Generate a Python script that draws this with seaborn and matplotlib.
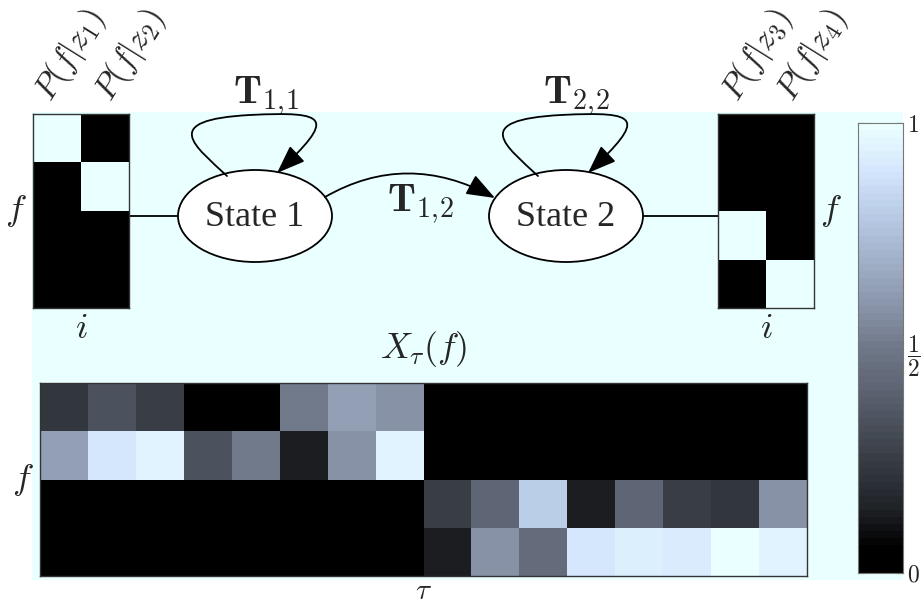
import numpy as np
import matplotlib
matplotlib.use("Agg")
import matplotlib.pyplot as plt
import seaborn as sns
from matplotlib.colors import LinearSegmentedColormap
from matplotlib.patches import Ellipse, Rectangle, FancyArrowPatch
from matplotlib.path import Path

sns.set_style("white")
plt.rcParams["mathtext.fontset"] = "cm"
plt.rcParams["font.family"] = ["DejaVu Serif"]

# --- data ---
emis_left = [[1, 0], [0, 1], [0, 0], [0, 0]]          # P(f|z1), P(f|z2)
emis_right = [[0, 0], [0, 0], [1, 0], [0, 1]]         # P(f|z3), P(f|z4)
left_labels = [r"$P(f|z_1)$", r"$P(f|z_2)$"]
right_labels = [r"$P(f|z_3)$", r"$P(f|z_4)$"]

X_row1 = [0.22, 0.33, 0.25, 0.06, 0.06, 0.50, 0.63, 0.58, 0, 0, 0, 0, 0, 0, 0, 0]
X_row2 = [0.63, 0.90, 0.94, 0.33, 0.50, 0.14, 0.58, 0.95, 0, 0, 0, 0, 0, 0, 0, 0]
X_row3 = [0, 0, 0, 0, 0, 0, 0, 0, 0.26, 0.41, 0.80, 0.14, 0.41, 0.26, 0.22, 0.58]
X_row4 = [0, 0, 0, 0, 0, 0, 0, 0, 0.14, 0.58, 0.45, 0.90, 0.93, 0.92, 1.00, 0.95]
X = np.array([X_row1, X_row2, X_row3, X_row4])

cbar_ticks = np.linspace(0, 1, 11)

# bone-like map ending in a pale cyan
cmap = LinearSegmentedColormap.from_list(
    "bonecyan",
    [(0.0, "#000000"), (0.05, "#000000"), (0.14, "#1f2227"), (0.25, "#383d45"),
     (0.41, "#5d6473"), (0.5, "#6f7888"), (0.58, "#8590a5"), (0.8, "#b8cbe6"),
     (0.9, "#d4e6fc"), (1.0, "#eaffff")], N=64)

W, H = 924, 600
fig = plt.figure(figsize=(W / 100, H / 100), dpi=100)


def px(x0, y0, x1, y1):
    return [x0 / W, 1 - y1 / H, (x1 - x0) / W, (y1 - y0) / H]


# background / diagram layer
bg = fig.add_axes([0, 0, 1, 1], zorder=0)
bg.set_xlim(0, W)
bg.set_ylim(H, 0)
bg.axis("off")
bg.add_patch(Rectangle((32, 112), 871, 468, facecolor="#eaffff", edgecolor="none"))

mfs = 26   # axis labels
pfs = 24   # rotated P(f|z) labels


def frame(ax, color="#333333"):
    for s in ax.spines.values():
        s.set_visible(True)
        s.set_color(color)
        s.set_linewidth(1.0)


def top_labels(ax, labels, pos):
    ax.xaxis.tick_top()
    ax.set_xticks(pos)
    ax.set_xticklabels(labels, rotation=58, ha="left", va="baseline",
                       rotation_mode="anchor", fontsize=pfs)
    ax.tick_params(axis="x", length=0, pad=8)


# left emission matrix
axl = fig.add_axes(px(33, 114, 129, 308), zorder=2)
sns.heatmap(emis_left, ax=axl, cmap=cmap, vmin=0, vmax=1, cbar=False,
            xticklabels=left_labels, yticklabels=False)
top_labels(axl, left_labels, [0.35, 1.6])
axl.set_xlabel(r"$i$", fontsize=mfs, labelpad=2)
axl.set_ylabel(r"$f$", fontsize=mfs, rotation=0, labelpad=12, va="center")
frame(axl)

# right emission matrix
axr = fig.add_axes(px(718, 114, 814, 308), zorder=2)
sns.heatmap(emis_right, ax=axr, cmap=cmap, vmin=0, vmax=1, cbar=False,
            xticklabels=right_labels, yticklabels=False)
top_labels(axr, right_labels, [0.4, 1.55])
axr.set_xlabel(r"$i$", fontsize=mfs, labelpad=2)
axr.yaxis.set_label_position("right")
axr.set_ylabel(r"$f$", fontsize=mfs, rotation=0, labelpad=12, va="center")
frame(axr)

# observation matrix + colorbar
axx = fig.add_axes(px(40, 383, 807, 576), zorder=2)
cax = fig.add_axes(px(858, 123, 903, 573), zorder=2)
sns.heatmap(X, ax=axx, cmap=cmap, vmin=0, vmax=1, cbar_ax=cax,
            xticklabels=False, yticklabels=False,
            cbar_kws={"ticks": cbar_ticks})
axx.set_title(r"$X_\tau(f)$", fontsize=mfs, pad=18)
axx.set_xlabel(r"$\tau$", fontsize=21, labelpad=1)
axx.set_ylabel(r"$f$", fontsize=mfs, rotation=0, labelpad=12, va="center")
frame(axx)

tick_txt = ["" for _ in cbar_ticks]
tick_txt[0], tick_txt[5], tick_txt[-1] = "$0$", r"$\dfrac{1}{2}$", "$1$"
cax.set_yticklabels(tick_txt, fontsize=17)
cax.tick_params(axis="y", direction="in", left=True, right=True, length=5,
                width=0.8, color="#333333", pad=3)
for s in cax.spines.values():
    s.set_visible(True)
    s.set_color("#777777")

# state diagram
for cx, name in [(255, "State 1"), (566, "State 2")]:
    bg.add_patch(Ellipse((cx, 216), 154, 92, facecolor="white", edgecolor="black", lw=1.3, zorder=3))
    bg.text(cx, 218, name, ha="center", va="center", fontsize=26,
            family=["Liberation Serif", "DejaVu Serif"], zorder=4)

bg.plot([129, 178], [216, 216], color="black", lw=1.3)
bg.plot([643, 718], [216, 216], color="black", lw=1.3)

arrow = "-|>,head_length=0.8,head_width=0.3"
for dx, lab in [(0, r"$\mathbf{T}_{1,\!1}$"), (311, r"$\mathbf{T}_{2,\!2}$")]:
    verts = [(227 + dx, 176), (195 + dx, 146), (158 + dx, 120), (250 + dx, 115),
             (330 + dx, 111), (335 + dx, 118), (277 + dx, 173)]
    codes = [Path.MOVETO] + [Path.CURVE4] * 6
    bg.add_patch(FancyArrowPatch(path=Path(verts, codes), arrowstyle=arrow,
                                 mutation_scale=22, lw=1.3, color="black", zorder=5))
    bg.text(266 + dx, 96, lab, ha="center", va="center", fontsize=29)

verts = [(325, 197), (407, 150), (495, 198)]
bg.add_patch(FancyArrowPatch(path=Path(verts, [Path.MOVETO, Path.CURVE3, Path.CURVE3]),
                             arrowstyle=arrow, mutation_scale=22, lw=1.3, color="black", zorder=5))
bg.text(421, 204, r"$\mathbf{T}_{1,\!2}$", ha="center", va="center", fontsize=29)

fig.savefig("out.png", dpi=100)
